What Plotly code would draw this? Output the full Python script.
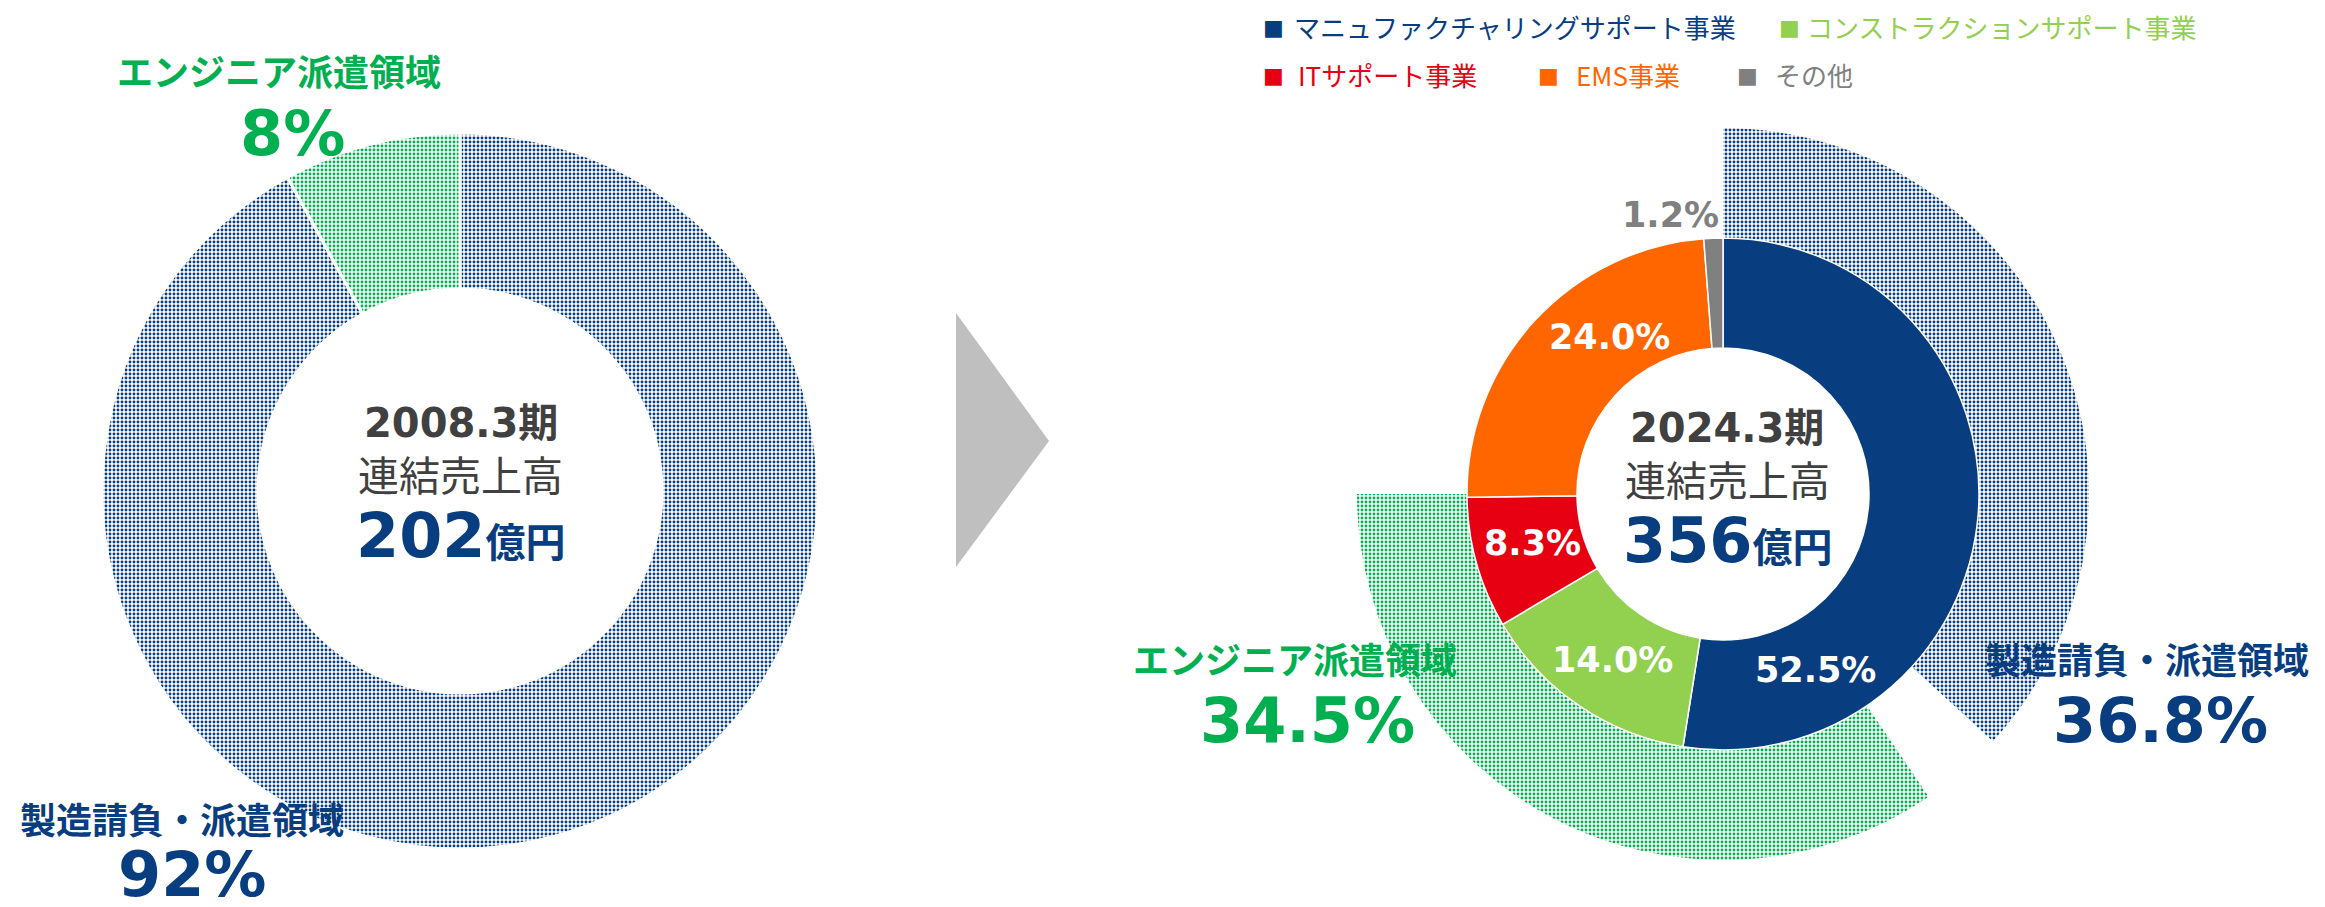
import plotly.graph_objects as go

# ---------------- data ----------------
left_labels = ["製造請負・派遣領域", "エンジニア派遣領域"]
left_values = [92, 8]
left_title = "2008.3期"
left_sales = 202

seg_labels = ["マニュファクチャリングサポート事業", "コンストラクションサポート事業",
              "ITサポート事業", "EMS事業", "その他"]
seg_values = [52.5, 14.0, 8.3, 24.0, 1.2]

domain_labels = ["製造請負・派遣領域", "", "エンジニア派遣領域", ""]
domain_values = [36.8, 3.7, 34.5, 25.0]
right_title = "2024.3期"
right_sales = 356

center_sub = "連結売上高"
unit = "億円"

# ---------------- style ----------------
W, H = 2325, 907
OFF = 8  # page body margin
NAVY = "#083D7F"
GREEN = "#00B050"
LGREEN = "#92D050"
RED = "#E60012"
ORANGE = "#FF6600"
GRAY = "#808080"
DARK = "#404040"
seg_colors = [NAVY, LGREEN, RED, ORANGE, GRAY]
FONT = "DejaVu Sans, Noto Sans CJK JP"
JFONT = "Noto Sans CJK JP"
SOL = 0.42


def dom(cx, cy, r):
    cx, cy = cx - OFF, cy - OFF
    return dict(x=[(cx - r) / W, (cx + r) / W], y=[1 - (cy + r) / H, 1 - (cy - r) / H])


def px(x, y):
    return (x - OFF) / W, 1 - (y - OFF) / H


fig = go.Figure()

# left donut (dotted)
fig.add_trace(go.Pie(
    labels=left_labels, values=left_values, sort=False, direction="clockwise", rotation=0,
    hole=202 / 358, domain=dom(460, 491, 358), textinfo="none", hoverinfo="label+percent",
    showlegend=False,
    marker=dict(colors=["white", "white"],
                line=dict(color="white", width=3),
                pattern=dict(shape=[".", "."], fgcolor=[NAVY, GREEN], bgcolor=["white", "white"],
                             size=4, solidity=SOL, fillmode="replace")),
))

# right outer domain ring (dotted)
fig.add_trace(go.Pie(
    labels=[l if l else f" {i}" for i, l in enumerate(domain_labels)], values=domain_values,
    sort=False, direction="clockwise", rotation=0,
    hole=0.68, domain=dom(1723, 494, 366), textinfo="none", hoverinfo="skip",
    showlegend=False,
    marker=dict(colors=["white" if l else "rgba(0,0,0,0)" for l in domain_labels],
                line=dict(width=0),
                pattern=dict(shape=["." if l else "" for l in domain_labels],
                             fgcolor=[NAVY, "rgba(0,0,0,0)", GREEN, "rgba(0,0,0,0)"],
                             bgcolor=["white" if l else "rgba(0,0,0,0)" for l in domain_labels],
                             size=4, solidity=SOL, fillmode="replace")),
))

# right inner segment donut
fig.add_trace(go.Pie(
    labels=seg_labels, values=seg_values, sort=False, direction="clockwise", rotation=0,
    hole=146 / 256, domain=dom(1723, 494, 256), textinfo="none", hoverinfo="label+value",
    showlegend=False,
    marker=dict(colors=seg_colors, line=dict(color="white", width=1.5)),
))

ann = []


def add(x, y, text, size, color, family=FONT, bold=True, xanchor="center"):
    xx, yy = px(x, y)
    ann.append(dict(x=xx, y=yy, xref="paper", yref="paper", xanchor=xanchor, yanchor="middle",
                    text=f"<b>{text}</b>" if bold else text, showarrow=False, borderpad=0,
                    font=dict(size=size, color=color, family=family)))


# center texts
for cx, cy, title, sales in [(461, 489, left_title, left_sales), (1727, 494, right_title, right_sales)]:
    add(cx, cy - 66, title, 40, DARK)
    add(cx, cy - 16, center_sub, 41, DARK, family=JFONT, bold=False)
    add(cx, cy + 46, f"{sales}<span style='font-size:40px'>{unit}</span>", 62, NAVY)

# left labels
add(279, 70, left_labels[1], 36, GREEN, family=JFONT)
add(292, 133, f"{left_values[1]:g}%", 62, GREEN)
add(182, 818, left_labels[0], 36, NAVY, family=JFONT)
add(192, 874, f"{left_values[0]:g}%", 62, NAVY)

# right domain labels
add(1295, 658, domain_labels[2], 36, GREEN, family=JFONT)
add(1307, 720, f"{domain_values[2]:.1f}%", 62, GREEN)
add(2147, 658, domain_labels[0], 36, NAVY, family=JFONT)
add(2160, 720, f"{domain_values[0]:.1f}%", 62, NAVY)

# inner segment labels
seg_pos = [(1815, 670), (1612, 660), (1532, 543), (1609, 337), (1670, 215)]
seg_txt_colors = ["white", "white", "white", "white", GRAY]
for (x, y), v, c in zip(seg_pos, seg_values, seg_txt_colors):
    add(x, y, f"{v:.1f}%", 35, c)

# legend (manual)
leg_pos = [(1273, 1293, 27), (1789, 1806, 27), (1273, 1297, 74), (1548, 1575, 74), (1747, 1774, 74)]
for (sx, tx, y), lab, c in zip(leg_pos, seg_labels, seg_colors):
    add(sx, y + 1, "■", 22, c, family="DejaVu Sans", bold=False)
    add(tx, y, lab, 26, c, family=JFONT, bold=False, xanchor="left")

# arrow triangle
p1, p2, p3 = px(956, 313), px(1049, 441), px(956, 567)
shapes = [dict(type="path", xref="paper", yref="paper",
               path=f"M {p1[0]} {p1[1]} L {p2[0]} {p2[1]} L {p3[0]} {p3[1]} Z",
               fillcolor="#BFBFBF", line=dict(width=0))]

fig.update_layout(width=W, height=H, margin=dict(l=0, r=0, t=0, b=0),
                  paper_bgcolor="white", plot_bgcolor="white",
                  annotations=ann, shapes=shapes, showlegend=False)

fig.write_html("out.html")
